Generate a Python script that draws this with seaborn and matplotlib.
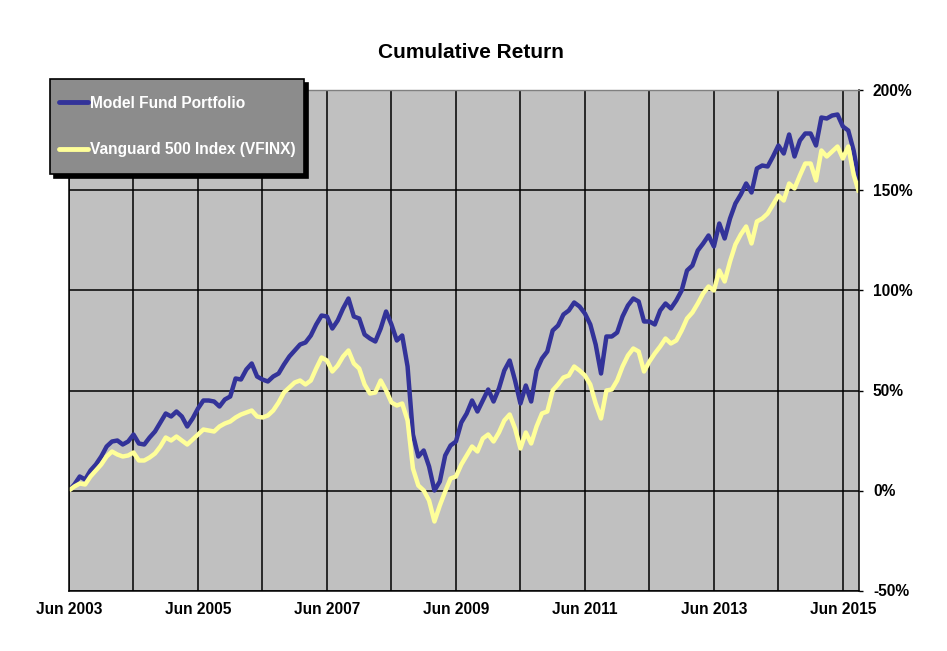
import numpy as np
import pandas as pd
import matplotlib
matplotlib.use("Agg")
import matplotlib.pyplot as plt
from matplotlib.lines import Line2D
from matplotlib.legend_handler import HandlerLine2D
import seaborn as sns

# ---------------- data (cumulative return, %, monthly from Jun 2003) ----------------
series_names = ["Model Fund Portfolio", "Vanguard 500 Index (VFINX)"]

model = [
    0, 3, 7, 5.5, 10, 13, 17, 22, 24.5, 25,
    23, 24.5, 28, 23.5, 23, 26.5, 29.5, 34, 38.5, 37,
    39.5, 37, 32, 36, 41, 45, 45, 44.5, 42, 45.5,
    47, 56, 55.5, 60.5, 63.5, 57, 55.5, 54.5, 57, 58.5,
    63, 67, 70, 73, 74, 77.5, 83, 87.5, 87, 81,
    85, 91, 96, 87, 86, 78, 76, 74.5, 81, 89.5,
    83, 75, 77.5, 62, 28, 17, 20, 12, 0, 4.5,
    17.5, 22.5, 24.5, 34, 38.5, 45, 39.5, 45, 50.5, 44.5,
    51, 60, 65, 55, 43.5, 52.5, 44.5, 60, 66, 69.5,
    80, 82.5, 88, 90, 94, 92, 88.5, 83, 73, 58.5,
    77, 77, 79, 87, 92.5, 96, 94.5, 84.5, 84.5, 83,
    90, 93.5, 91, 95, 100, 110, 112.5, 120, 123.5, 127.5,
    122, 133.5, 126, 136, 143.5, 148, 153.5, 149, 161, 162.5,
    162, 167, 172.5, 168.5, 178, 167, 175, 178.5, 178.5, 172.5,
    186.5, 186, 187.5, 188, 182, 180, 170, 155,
]

vfinx = [
    0, 2, 3.5, 3, 7, 10, 13, 17, 19.5, 18,
    17, 17.5, 19, 15, 15, 16.5, 18.5, 22, 26.5, 25,
    27, 25, 23, 25.5, 28, 30.5, 30, 29.5, 32, 33.5,
    34.5, 36.5, 38, 39, 40, 37, 36.5, 37.5, 40, 44,
    49, 51.5, 54, 55, 53, 55, 61, 66.5, 65, 59.5,
    62.5, 67, 70, 63.5, 61, 53, 48.5, 49, 55, 50,
    44, 42.5, 43.5, 35, 11, 2.5, 0, -5, -15.5, -7.5,
    -0.5, 6, 7, 13, 17.5, 22, 19.5, 26, 28, 24.5,
    29, 35, 38, 31, 21, 29, 23.5, 32, 38.5, 39.5,
    50, 53, 56.5, 57.5, 62, 60, 57.5, 53, 43.5, 36,
    50, 50.5, 55, 62, 67.5, 71, 69.5, 59.5, 64.5, 68.5,
    72, 76, 73.5, 75, 80, 86, 89, 93.5, 98.5, 102,
    100, 110, 104.5, 114.5, 123, 128, 132, 123.5, 134.5, 136,
    138.5, 143, 147.5, 145, 153.5, 151, 157.5, 163.5, 163.5, 155,
    170, 167, 169.5, 172, 166, 172, 158, 149,
]

year_labels = ["Jun 2003", "Jun 2004", "Jun 2005", "Jun 2006", "Jun 2007", "Jun 2008",
               "Jun 2009", "Jun 2010", "Jun 2011", "Jun 2012", "Jun 2013", "Jun 2014",
               "Jun 2015"]
y_ticks = [-50, 0, 50, 100, 150, 200]
colors = ["#333399", "#FFFF99"]

# ---------------- long-form table ----------------
months = np.arange(len(model))
df = pd.DataFrame({
    "month": np.concatenate([months, months]),
    "ret": np.array(model + vfinx, dtype=float),
    "series": [series_names[0]] * len(model) + [series_names[1]] * len(vfinx),
})

sns.set_style("white")
plt.rcParams["font.family"] = ["Liberation Sans", "DejaVu Sans"]
plt.rcParams["font.weight"] = "bold"
plt.rcParams["text.color"] = "black"
plt.rcParams["xtick.color"] = "black"
plt.rcParams["ytick.color"] = "black"

FS = 11.2
W, H = 947, 651
fig = plt.figure(figsize=(W / 100, H / 100), dpi=100)
fig.patch.set_facecolor("white")
ax = fig.add_axes([69 / W, 1 - 590.5 / H, 790 / W, 500 / H])
ax.set_facecolor("#C0C0C0")

palette = dict(zip(series_names, colors))
sns.lineplot(data=df, x="month", y="ret", hue="series", hue_order=series_names,
             palette=palette, linewidth=3.2, legend=False, ax=ax,
             solid_joinstyle="round", solid_capstyle="butt", errorbar=None)

ax.set_xlim(0, len(model) - 1)
ax.set_ylim(-50, 200)

xt = list(range(0, 12 * (len(year_labels) - 1) + 1, 12))
ax.set_xticks(xt)
ax.set_xticklabels([lab if i % 2 == 0 else "" for i, lab in enumerate(year_labels)],
                   fontsize=FS, fontweight="bold")
ax.yaxis.tick_right()
ax.set_yticks(y_ticks)
ax.set_yticklabels([f"{v}%" for v in y_ticks], fontsize=FS, fontweight="bold")
ax.tick_params(axis="x", length=0, pad=8, colors="black")
ax.tick_params(axis="y", which="both", right=True, left=False, length=3, width=1,
               pad=7, colors="black")
ax.set_xlabel("")
ax.set_ylabel("")

ax.set_axisbelow(True)
ax.grid(True, color="black", linewidth=1.1)
for tick in ax.yaxis.get_major_ticks():
    if tick.get_loc() == y_ticks[-1]:
        tick.gridline.set_visible(False)
for name, sp in ax.spines.items():
    sp.set_visible(True)
    sp.set_color("black")
    sp.set_linewidth(1.1)
ax.spines["top"].set_color("#808080")
ax.spines["top"].set_linewidth(1.0)

fig.text(0.497, 1 - 52 / H, "Cumulative Return", ha="center", va="center",
         fontsize=15, fontweight="bold", color="black")


class CenteredLine(HandlerLine2D):
    def create_artists(self, legend, orig_handle, xdescent, ydescent, width, height,
                       fontsize, trans):
        arts = super().create_artists(legend, orig_handle, xdescent, ydescent, width,
                                      height, fontsize, trans)
        for a in arts:
            if isinstance(a, Line2D):
                yd = np.asarray(a.get_ydata(), dtype=float)
                a.set_ydata(np.full_like(yd, 0.36 * fontsize))
        return arts


handles = [Line2D([], [], color=c, lw=3.5) for c in colors]
leg = ax.legend(handles, series_names, loc="upper left",
                bbox_to_anchor=(50 / W, 1 - 79 / H), bbox_transform=fig.transFigure,
                borderaxespad=0, frameon=True, fancybox=False,
                facecolor="#8C8C8C", edgecolor="black", framealpha=1,
                shadow={"ox": 2.8, "oy": -2.8, "facecolor": "black",
                        "edgecolor": "black", "alpha": 1},
                prop={"weight": "bold", "size": FS}, labelcolor="white",
                handlelength=1.92, handletextpad=0.07, borderpad=0.55,
                labelspacing=1.0, handleheight=2.7,
                handler_map={Line2D: CenteredLine()})
leg.get_frame().set_linewidth(1.2)
leg.set_zorder(10)

fig.savefig("out.png", dpi=100)
